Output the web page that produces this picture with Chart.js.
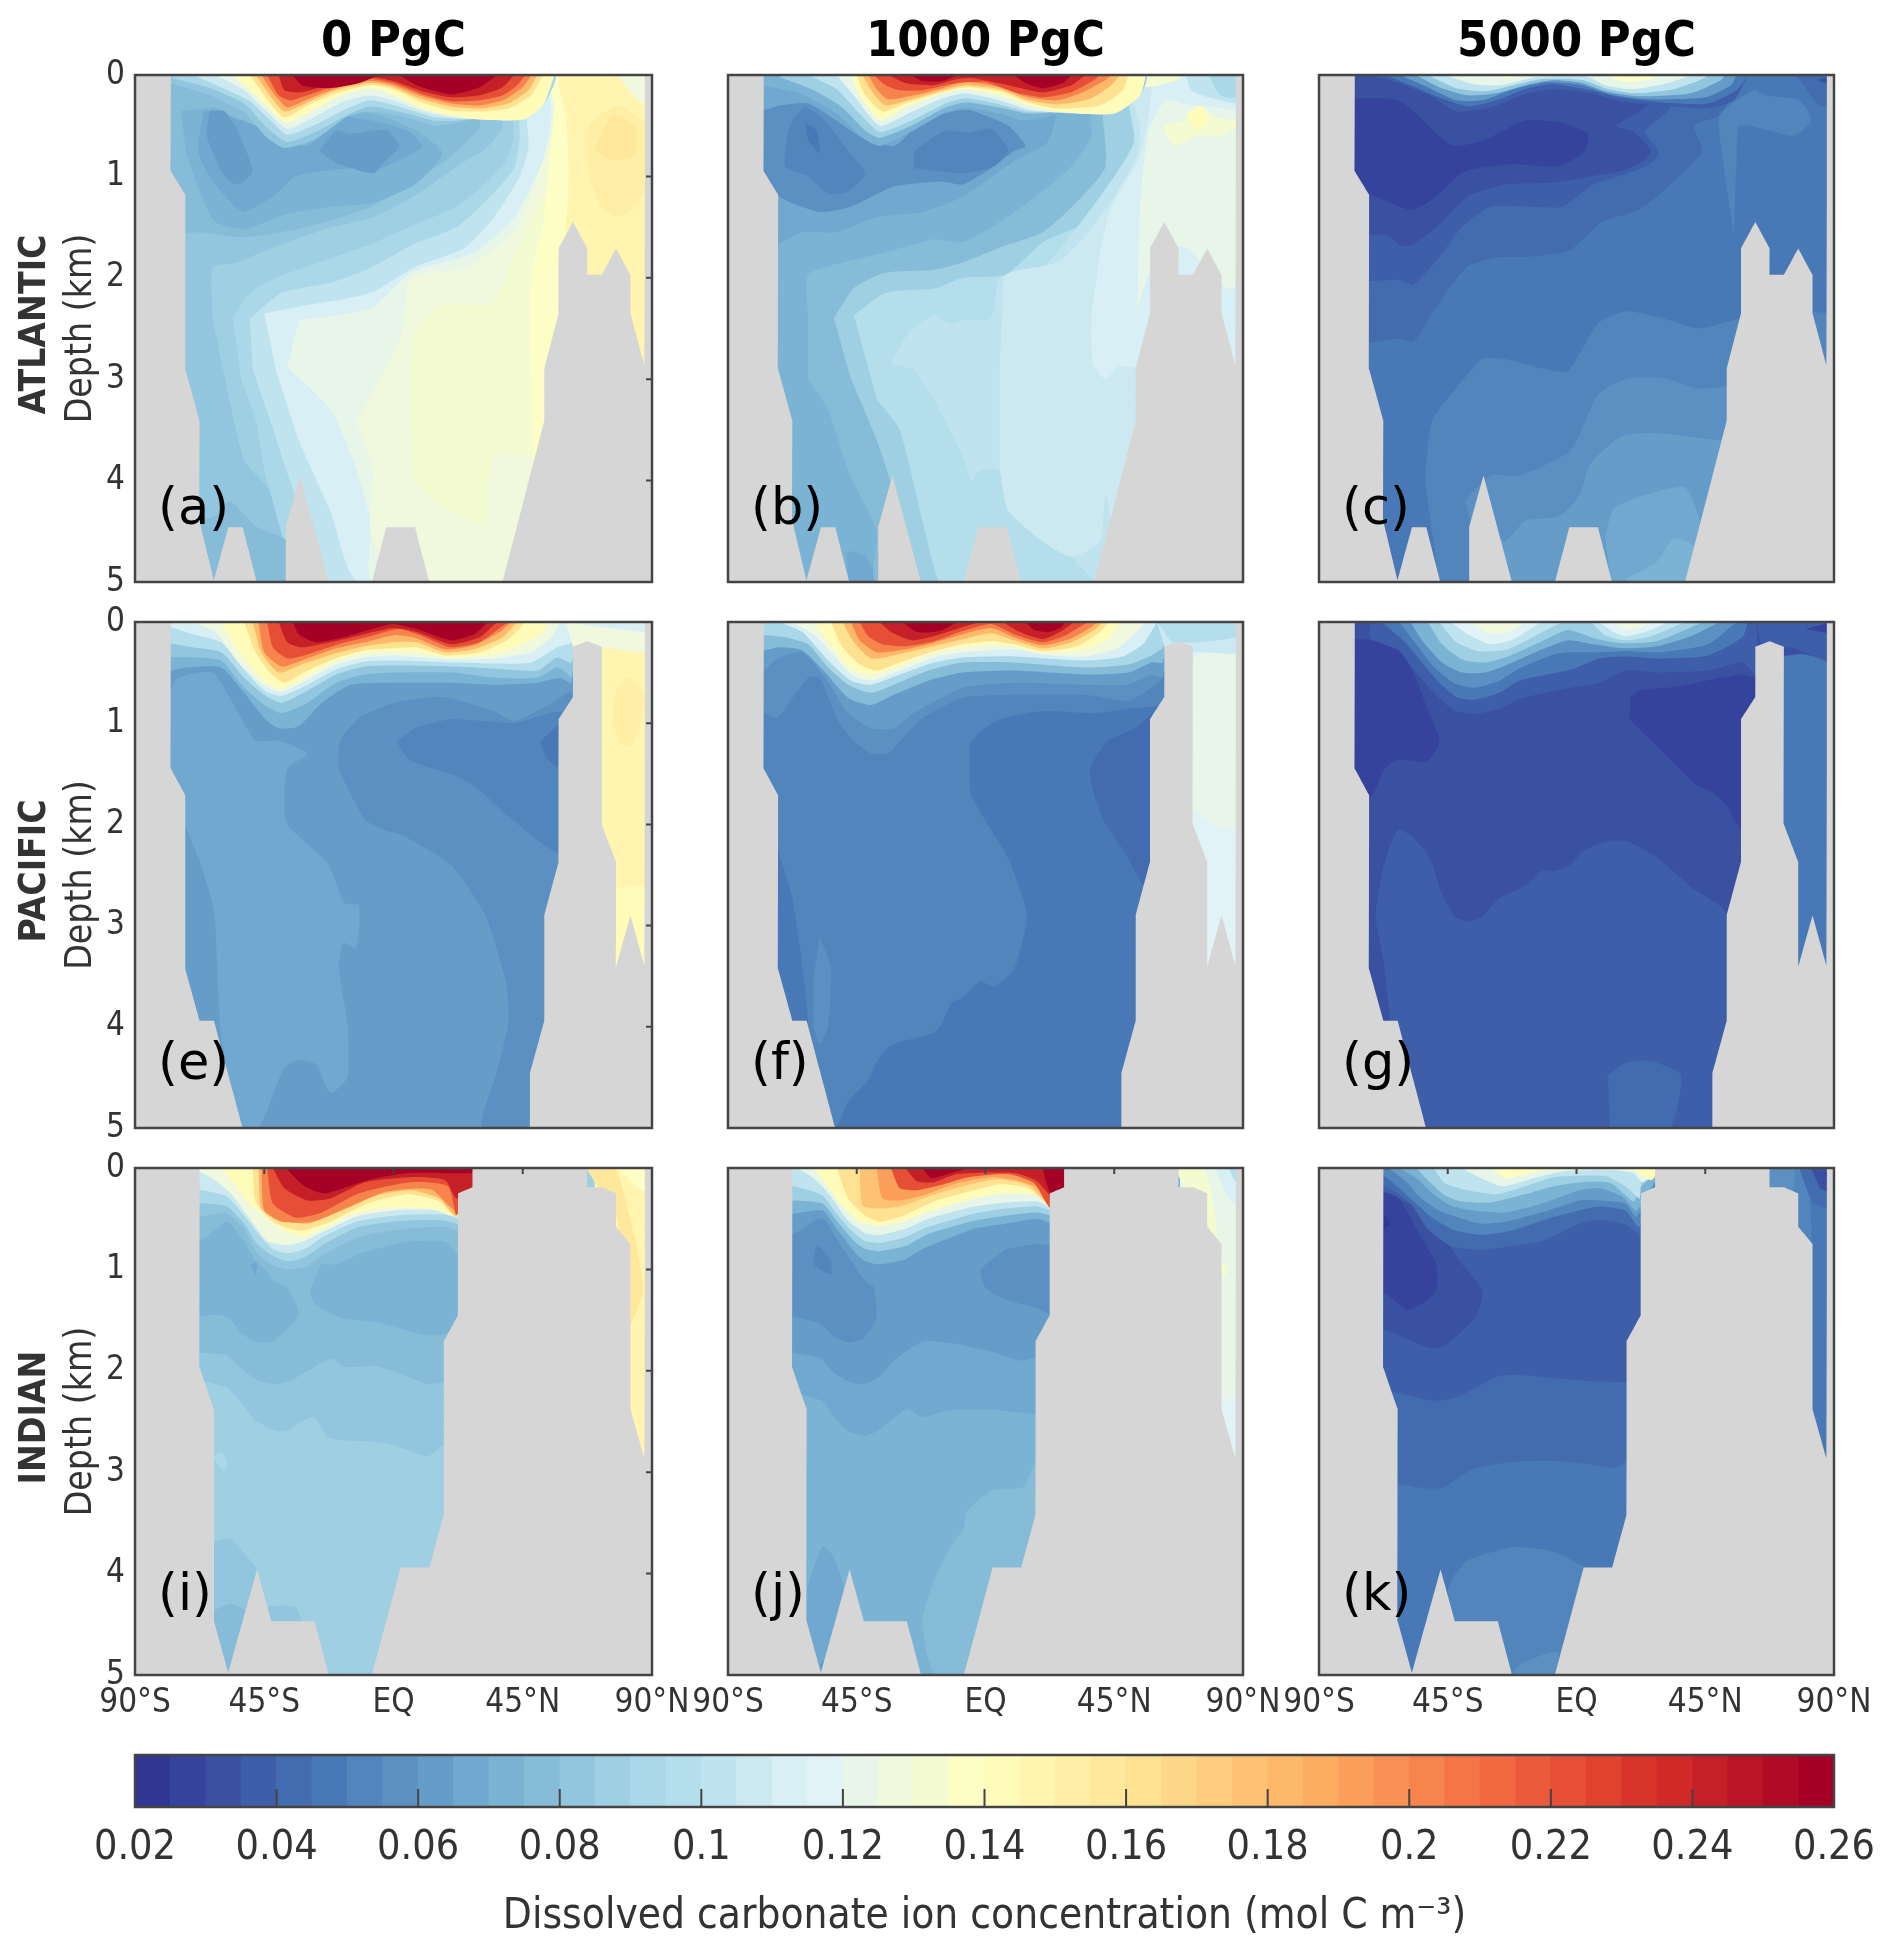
<!DOCTYPE html>
<html>
<head>
<meta charset="utf-8">
<title>Dissolved carbonate ion concentration</title>
<script src="https://cdn.jsdelivr.net/npm/chart.js@4"></script>
<style>
  html, body { margin: 0; padding: 0; background: #fff; }
  body { position: relative; width: 1892px; height: 1956px; overflow: hidden; }
  canvas { position: absolute; }
</style>
</head>
<body>
<script>
// Colour levels of the bar, 0.02 to 0.26 in steps of 0.005
const levelColors = ['#313695','#35439c','#3a51a2','#3e5ea9','#426caf','#4879b6','#5285bc','#5c90c2','#669cc8','#70a8cf','#7bb3d4','#87bcd9','#92c5de','#9ecfe3','#aad8e8','#b5deec','#c0e4ef','#cce9f2','#d7eff5','#e1f3f6','#e8f6e9','#f0f9dd','#f5fbd1','#fcfec6','#fffcba','#fff5b0','#ffefa6','#ffe89c','#fee292','#fed788','#fecd7e','#fdc274','#fdb86a','#fdad60','#fb9f5a','#f99154','#f7834d','#f57547','#f26841','#eb5b3b','#e64f35','#df422f','#d93429','#d02927','#c51f27','#bb1426','#b00a26','#a50026'];
const columnTitles = ['0 PgC', '1000 PgC', '5000 PgC'];
const rowTitles = ['ATLANTIC', 'PACIFIC', 'INDIAN'];
const xTickValues = [-90, -45, 0, 45, 90];
const xTickLabels = ['90°S', '45°S', 'EQ', '45°N', '90°N'];
const barTicks = [0.02, 0.04, 0.06, 0.08, 0.1, 0.12, 0.14, 0.16, 0.18, 0.2, 0.22, 0.24, 0.26];

// Sea floor outlines, lat,depth pairs
const atlanticLand = [-90,0,-77.5,0,-77.5,.95,-72.5,1.18,-72.5,2.9,-67.5,3.41,-67.5,4.4,-62.5,4.98,-57.5,4.46,-52.5,4.46,-47.5,5,-37.5,5,-37.5,4.46,-32.5,3.95,-22.5,5,-7.5,5,-2.5,4.46,7.5,4.46,12.5,5,38,5,52.5,3.41,52.5,2.9,57.5,2.35,57.5,1.71,62.5,1.45,67.5,1.71,67.5,1.97,72.5,1.97,77.5,1.71,82.5,1.97,82.5,2.35,87.5,2.88,87.5,0,90,0,90,5,-90,5];
const pacificLand = [-90,0,-77.5,0,-77.5,1.45,-72.5,1.71,-72.5,3.43,-67.5,3.94,-62.5,3.94,-52.5,5,47.5,5,47.5,4.46,52.5,3.94,52.5,2.9,57.5,2.37,57.5,.96,62.5,.74,62.5,.245,67.5,.19,72.5,.245,72.5,2,77.5,2.37,77.5,3.41,82.5,2.9,87.5,3.41,87.5,0,90,0,90,5,-90,5];
const indianLand = [-90,0,-67.5,0,-67.5,1.97,-62.5,2.38,-62.5,4.47,-57.5,4.98,-47.5,3.96,-42.5,4.47,-27.5,4.47,-22.5,5,-7.5,5,2.5,3.94,12.5,3.94,17.5,3.42,17.5,1.71,22.5,1.45,22.5,.25,27.5,.19,27.5,0,67.5,0,67.5,.19,72.5,.19,77.5,.25,77.5,.58,82.5,.75,82.5,2.38,87.5,2.88,87.5,0,90,0,90,5,-90,5];

// Contour regions, painted in order: concentration, then lat,depth pairs
const atlantic0 = [
  [.075,-90,0,90,0,90,5,-90,5],
  [.08,-80,1.6,-68,1.55,-52,1.6,-30,1.5,-8,1.3,10,1,20,.8,30,.5,30,0,90,0,90,5,-90,5,-90,1.6],
  [.085,-63,2.4,-63,1.9,-55,1.85,-42,1.7,-24,1.52,-7,1.4,8,1.18,23,.88,32,.73,38,.5,38,0,90,0,90,5,-37,5,-37,4.5,-43,4.1,-52,3.8,-58,3.1],
  [.09,-56,2.4,-50,2.15,-41,2,-24,1.83,-8,1.67,7,1.48,22,1.3,32,1.07,39,.85,42,.6,42,0,90,0,90,5,-30,5,-44,4,-48,3.4,-53,3],
  [.1,-50,2.4,-39,2.15,-22,2.05,-8,1.9,7,1.67,22,1.5,33,1.22,42,.92,44,.6,44,0,90,0,90,5,-22,5,-36,4,-43,3.4,-49,2.9],
  [.11,-45,2.35,-32,2.28,-8,2.15,7,1.9,25,1.7,35,1.4,44,1,47,.7,47,0,90,0,90,5,-12,5,-22,4.3,-33,3.6,-41,2.9],
  [.12,-33,2.42,-8,2.3,6,1.95,28,1.75,42,1.4,52,.85,55,.4,55,0,90,0,90,5,-7,5,-8,4.4,-14,3.8,-22,3.3,-37,2.88],
  [.125,-13,3.42,-5,3,3,2.55,6,2,25,1.9,42,1.55,50,1,57,.4,60,0,90,0,90,5,12,5,-3,4.8,-8,4.5,-7,3.9],
  [.13,6,3.4,7,2.6,17,2.26,34,2.26,42,1.8,50,1.3,56,.9,60,0,90,0,90,5,50,3.8,35,3.75,32,4.45,27,4.4,17,4.25,7,4],
  [.135,48,3.1,48,2,52,1.5,54,.9,56,.3,54,0,90,0,90,5,50,5],
  [.145,57,2.5,60,1.5,61,.95,60,.4,58,0,90,0,90,5,57,5],
  [.15,68,1,68,.5,78,.3,88,.5,88,1.1,84,1.3,78,1.4,72,1.3],
  [.155,70,.75,76,.4,84,.5,84,.8,76,.85],
  [.125,78,0,82,.15,86,.27,90,.27,90,0],
  [.075,-70,4.4,-62,4.35,-57,4.2,-48,4.45,-44,4.5,-37,4.6,-37,5,-70,5],
  [.07,-74,.35,-72,.77,-67,1.18,-62,1.45,-52,1.52,-37,1.37,-22,1.3,-7,1.26,8,1.07,17,.77,8,.55,-7,.38,-18,.35,-33,.73,-42,.65,-52,.47,-62,.32],
  [.065,-66,.35,-68,.75,-63,1.05,-55,1.3,-52,1.35,-42,1.2,-34,1,-15,.92,-7,.95,5,.8,10,.7,5,.55,-7,.45,-18,.42,-30,.7,-40,.6,-52,.45],
  [.06,-64,.35,-65,.6,-60,.95,-56,1.07,-53,1.07,-49,.95,-55,.5,-59,.35],
  [.06,-26,.75,-20,.55,-15,.58,-8,.55,-2,.55,2,.7,-3,.85,-7,.97,-20,.87],
  [.08,-78,.08,-64,.2,-52,.37,-44,.62,-38,.72,-27,.63,-16,.41,-8,.36,5,.42,14,.5,22,.47,30,.43,45,.43,52,.3,56,0,-78,0],
  [.09,-77,.03,-64,.13,-52,.28,-44,.52,-37,.66,-27,.56,-15,.38,-8,.31,5,.38,14,.45,22,.45,30,.43,45,.43,52,.3,56,0,-77,0],
  [.105,-70,0,-60,.12,-50,.26,-42,.47,-37,.59,-28,.5,-16,.33,-8,.25,3,.32,15,.42,30,.43,45,.43,52,.3,56,0],
  [.12,-62,0,-52,.15,-44,.36,-37,.53,-30,.45,-18,.27,-8,.2,2,.27,12,.37,25,.43,45,.44,52,.3,56,0],
  [.14,-56,0,-48,.2,-40,.42,-37,.47,-30,.38,-18,.2,-8,.13,0,.2,10,.33,20,.4,30,.44,45,.44,52,.3,56,0],
  [.16,-50,0,-45,.2,-38,.42,-30,.3,-20,.18,-8,.1,0,.14,10,.27,20,.35,30,.36,40,.33,48,.2,52,0],
  [.18,-48,0,-43,.2,-38,.36,-30,.27,-20,.15,-8,.08,0,.12,10,.24,20,.31,30,.33,40,.28,47,.15,50,0],
  [.2,-46,0,-42,.17,-37,.32,-30,.24,-20,.13,-8,.06,0,.1,10,.21,20,.28,30,.3,38,.25,45,.12,48,0],
  [.22,-44,0,-40,.2,-36,.25,-30,.2,-20,.1,-8,.04,0,.08,10,.19,20,.26,30,.25,38,.2,43,.1,46,0],
  [.24,-40,0,-38,.15,-32,.17,-20,.08,-8,.02,0,.06,10,.16,20,.22,30,.2,38,.12,42,0],
  [.255,-35,0,-32,.1,-22,.13,-12,.08,-5,0],
  [.255,2,0,8,.1,20,.19,30,.12,36,0],
];
const atlantic1000 = [
  [.065,-90,0,90,0,90,5,-90,5],
  [.07,-73,1.68,-64,1.55,-52,1.55,-38,1.4,-22,1.35,-8,1.2,10,.85,22,.65,30,0,90,0,90,5,-90,5,-90,1.68],
  [.065,-48,5,-48,4.7,-42,4.75,-37,5],
  [.075,-62,2.4,-62,1.97,-50,1.85,-35,1.75,-18,1.62,-8,1.65,5,1.45,20,1.15,30,.9,37,.6,37,0,90,0,90,5,-38,5,-38,4.5,-48,3.9,-55,3.3,-62,3],
  [.085,-53,2.4,-46,2.1,-35,1.95,-18,1.92,-8,1.85,5,1.7,20,1.55,32,1.25,42,.9,42,0,90,0,90,5,-24,5,-30,4.3,-38,3.6,-47,3],
  [.095,-46,2.37,-35,2.15,-17,2.1,-8,2,7,1.97,20,1.65,32,1.5,42,1.3,52,.7,50,0,90,0,90,5,-8,5,-16,5,-22,4.4,-30,3.5,-38,3.2],
  [.1,-33,2.85,-27,2.55,-18,2.37,-13,2.45,-8,2.42,2,2.4,5,2,20,1.9,40,1.2,52,.65,50,0,90,0,90,5,40,5,22,4.5,16,4.4,5,3.9,-2,3.9,-5,4,-8,3.75,-18,3.2,-25,2.9],
  [.105,5,2.9,6,2.3,7,1.97,25,1.85,36,1.55,45,1.2,53,.8,54,.5,50,0,90,0,90,5,50,5,42,4.15,40,4.6,30,4.75,20,4.6,8,4.3,5,3.9],
  [.11,37,2.37,37.5,2.85,42,3,47,2.87,90,3,90,0,60,0,57,.4,54,.8,44,1.3,40,1.75],
  [.12,53,2.3,54,1.3,57,.55,63,.25,72,.3,90,.4,90,2.05,84,2.1,70,1.7,60,1.7],
  [.13,70,.45,75,.3,80,.42,90,.47,82,.6,74,.6,66,.7,62,.5],
  [.14,70,.4,75,.3,78,.45,74,.55],
  [.13,54,0,56,.12,66,.06,70,0],
  [.1,70,0,72,.15,78,.22,90,.28,90,0],
  [.09,78,0,82,.2,90,.22,90,0],
  [.055,-78,.35,-78,.95,-72,1.2,-58,1.35,-47,1.3,-32,1.1,-15,1.05,-8,1.08,3,.9,10,.75,14,.7,8,.5,-5,.35,-10,.35,-22,.45,-32,.7,-43,.62,-52,.45,-62,.28,-72,.3],
  [.05,-69,.55,-70,.9,-62,1,-55,1.17,-48,1.15,-42,.97,-48,.75,-56,.45,-63,.32,-67,.42],
  [.05,-25,.75,-14,.55,-6,.57,2,.53,6,.65,8,.75,3,.9,-8,.97,-25,.92],
  [.045,-63,.47,-59,.55,-58,.77,-62,.65],
  [.07,-78,.1,-65,.18,-52,.38,-43,.62,-37,.7,-26,.56,-14,.37,-7,.32,5,.38,13,.45,20,.42,30,.36,45,.37,54,.2,56,0,-78,0],
  [.085,-72,.02,-60,.15,-50,.32,-42,.55,-37,.62,-26,.5,-14,.32,-7,.27,5,.32,15,.38,30,.36,45,.37,54,.2,56,0,-72,0],
  [.1,-62,0,-52,.14,-44,.38,-37,.56,-26,.45,-14,.28,-7,.23,5,.29,15,.36,30,.36,45,.37,54,.2,56,0],
  [.12,-52,0,-46,.2,-37,.5,-27,.38,-15,.23,-7,.18,5,.25,15,.34,25,.37,45,.38,54,.2,56,0],
  [.14,-47,0,-44,.2,-37,.44,-28,.32,-15,.18,-7,.14,5,.2,15,.3,25,.36,45,.38,54,.2,56,0],
  [.16,-45,0,-42,.2,-36,.36,-28,.28,-15,.17,-7,.12,5,.16,15,.27,25,.33,40,.3,48,.15,50,0],
  [.18,-43,0,-40,.15,-35,.3,-26,.24,-15,.15,-7,.1,5,.14,15,.25,25,.29,36,.24,44,.1,47,0],
  [.2,-41,0,-38,.14,-34,.24,-25,.2,-15,.13,-7,.07,5,.12,15,.22,25,.25,34,.17,42,.05,44,0],
  [.22,-39,0,-35,.1,-30,.15,-22,.15,-10,.08,0,.07,10,.17,20,.22,30,.17,38,.05,40,0],
  [.24,-34,0,-28,.08,-18,.1,-10,.04,-5,.03,8,.1,20,.17,30,.1,35,0],
  [.255,-26,0,-22,.06,-15,.06,-10,0],
  [.255,10,0,14,.08,20,.13,27,.08,30,0],
];
const atlantic5000 = [
  [.03,-90,0,90,0,90,5,-90,5],
  [.035,-80,1.58,-66,1.58,-61.6,1.68,-57.7,1.68,-49,1.5,-38,1.2,-25,1.08,-8,1.06,5,1,15,.95,22,.87,26,.75,20,.56,14,.5,25,.3,30,0,90,0,90,5,-90,5,-90,1.58],
  [.04,-80,2.05,-62,2.02,-57,2.07,-48,1.8,-40,1.5,-30,1.3,-15,1.3,-5,1.3,6,1.08,20,.95,27,.85,28.7,.75,24,.56,32,.35,38,0,90,0,90,5,-90,5,-90,2.05],
  [.045,-80,2.67,-62.3,2.6,-57,2.63,-50.4,2.35,-38.6,1.9,-28,1.8,-16,1.79,-2.3,1.73,9,1.45,22,1.33,34,1.05,44,.75,41,.5,50,.4,60,0,90,0,90,5,-90,5,-90,2.67],
  [.05,-53,4,-50.5,3.41,-38.6,2.97,-33,2.8,-25,2.8,-11,2.9,-3,2.92,7.5,2.45,17,2.33,29,2.39,43,2.5,58,2.4,90,2.4,90,5,-48,5],
  [.055,-39,4.2,-30,3.95,-20,3.95,-2,3.7,7.5,3.15,18,2.99,31,2.99,42,3.09,54,3.07,90,3,90,5,-36,5,-36,4.5],
  [.06,-29,4.5,-25,4.6,-18,4.4,-6,4.35,1,4.15,5,3.83,16,3.56,28,3.53,50,3.6,90,3.6,90,5,-25,5],
  [.065,10,4.55,13,4.28,22,4.16,38,4.07,44,4.5,44,5,12,5],
  [.07,17,4.97,28,4.8,34,4.57,41,4.65,41,5,17,5],
  [.05,55,1.6,56,.8,57,.5,68,.55,76,.6,82,.45,78,.25,66,.2,62,.15,50,.4,52,1],
  [.04,78,.05,85,.3,90,.3,90,0,76,0],
  [.03,84,.05,90,.1,90,0],
  [.025,-90,.24,-62.3,.25,-44,.69,-33,.65,-18,.45,-5,.47,4,.58,3,.75,-6,.9,-22,.88,-39,.95,-50,1.22,-57.7,1.33,-72,1.18,-90,1],
  [.035,-72,0,-62,.08,-50,.22,-42,.36,-30,.32,-18,.19,-8,.14,5,.18,15,.26,30,.3,46,.33,55,.25,60,0],
  [.045,-67,0,-58,.1,-48,.22,-38,.31,-28,.25,-18,.14,-8,.09,5,.15,15,.22,30,.27,46,.28,56,.15,60,0],
  [.06,-62,0,-52,.12,-42,.25,-33,.25,-22,.14,-10,.07,2,.1,12,.19,25,.24,45,.22,54,.1,56,0],
  [.08,-56,0,-48,.12,-38,.2,-28,.18,-18,.1,-8,.05,2,.08,10,.16,22,.21,40,.18,50,.06,52,0],
  [.1,-52,0,-42,.13,-32,.16,-22,.1,-12,.04,2,.05,10,.13,20,.18,34,.14,44,.04,46,0],
  [.12,-46,0,-36,.09,-26,.1,-14,.02,3,.01,10,.1,20,.14,32,.08,40,0],
  [.135,-28,0,-24,.03,-18,0],
  [.135,10,0,17,.07,24,.05,30,0],
];
const pacific0 = [
  [.06,-90,0,90,0,90,5,-90,5],
  [.065,-78,.7,-75,.55,-63,.5,-56,.8,-48,1.17,-40,1.17,-30,1.3,-37,1.45,-38,1.73,-37,2,-23,2.38,-17,2.78,-12,2.8,-13,3.22,-17.5,3.17,-19,3.42,-16,3.97,-16,4.5,-22,4.65,-27,4.37,-33,4.33,-38,4.4,-42,4.68,-47,5,-53,5,-60,4.1,-61.5,3.3,-62.5,2.85,-67,2.4,-72,2.05,-80,1.5],
  [.055,-19,1.2,-19,1.45,-10,1.95,-4,2.05,2.5,2.1,20,2.4,32,2.9,39,3.55,40,3.95,36,4.45,31,5,60,5,60,.5,-5,.5],
  [.05,1,1.18,6,1.37,22,1.52,30,1.66,42,1.97,58,2.27,60,.9,42,1,20,.96,8,1.04],
  [.045,51,1.18,53.5,1.35,58,1.45,60,1.2,58,1],
  [.06,-20,1.2,-12,.95,0,.8,17,.74,35,.88,42,.98,55,.8,62,.65,62,0,-20,0],
  [.07,-80,.5,-72,.45,-60,.45,-52,.7,-45,.95,-40,1.05,-33,1.03,-25,.8,-15,.62,0,.6,20,.6,35,.62,50,.6,58,.55,62,.6,62,0,-80,0],
  [.08,-80,.35,-70,.35,-60,.38,-52,.65,-45,.82,-39,.9,-30,.8,-20,.6,-10,.52,0,.5,20,.5,35,.55,50,.55,57,.45,60,.5,62,.55,62,0,-80,0],
  [.095,-80,.2,-70,.25,-60,.3,-52,.55,-45,.72,-39,.8,-30,.68,-20,.52,-10,.44,0,.43,20,.44,35,.46,50,.48,57,.35,62,.4,62,0,-80,0],
  [.11,-78,.05,-70,.12,-60,.2,-52,.47,-45,.68,-39,.73,-30,.62,-20,.47,-10,.39,0,.38,20,.4,35,.41,48,.4,57,.25,62,.2,62,0,-78,0],
  [.125,-70,0,-62,.1,-54,.4,-45,.63,-39,.69,-30,.57,-20,.42,-10,.35,0,.33,20,.37,35,.36,48,.3,55,.15,58,0],
  [.14,-60,0,-54,.28,-45,.58,-39,.66,-30,.53,-20,.38,-10,.31,0,.29,10,.31,20,.35,35,.32,45,.22,52,.1,54,0],
  [.16,-52,0,-48,.3,-43,.5,-38,.6,-30,.48,-20,.36,-10,.28,0,.26,8,.25,18,.33,30,.3,40,.17,46,0],
  [.18,-49,0,-46,.3,-40,.5,-32,.42,-20,.31,-10,.24,0,.2,8,.2,18,.3,28,.27,38,.15,43,0],
  [.2,-47,0,-45,.3,-39,.44,-31,.37,-20,.26,-10,.2,0,.13,8,.16,18,.27,28,.23,37,.1,41,0],
  [.22,-44,0,-42,.25,-37,.36,-30,.32,-18,.21,-8,.14,2,.07,10,.14,20,.25,30,.2,37,.06,40,0],
  [.24,-40,0,-37,.2,-32,.25,-22,.2,-10,.12,0,.06,8,.1,20,.22,30,.15,36,0],
  [.255,-35,0,-33,.12,-27,.2,-16,.14,-5,.05,0,.02,8,.07,20,.18,28,.12,33,0],
  [.145,63,.2,90,.2,90,5,63,5],
  [.14,70,2.65,90,2.65,90,5,70,5],
  [.15,76,1,78,.65,82,.55,87,.7,87,.9,83,1.22,79,1.2],
  [.125,60,0,90,0,90,.3,70,.25,63,.3],
  [.11,60,0,90,0,90,.1,72,.05],
];
const pacific1000 = [
  [.045,-90,0,90,0,90,5,-90,5],
  [.05,-5.5,1.2,-5.5,1.45,-5,1.71,3,2.1,8.5,2.37,14.5,2.9,10,3.43,3,3.6,-2,3.55,-7.5,3.7,-12,3.77,-17,4.04,-33,4.18,-37,4.3,-41.6,4.55,-47.6,4.72,-52.5,5,-60,5,-62,3.95,-64,3.4,-67.7,2.7,-72,2.3,-80,1.5,-80,0,62,0,62,.8,52,.85,38,.9,20,.88,5,.96,-2,1.08],
  [.055,-58,3.1,-54,3.43,-55,4,-58,4.17,-60,4,-60,3.5],
  [.04,42,1.18,36.6,1.45,38,1.71,42,2,48.6,2.27,55.3,2.6,60,2.5,60,.9,52,1.05],
  [.055,-78,.88,-73,.95,-62,.55,-58,.55,-52,.95,-47,1.15,-40,1.3,-34,1.3,-30,1.18,-22,.95,-8,.75,10,.72,35,.72,50,.78,58,.65,62,.55,62,0,-80,0],
  [.06,-80,.55,-72,.35,-64,.3,-56,.55,-48,.9,-40,1.05,-32,1.05,-25,.9,-8,.65,10,.6,35,.62,50,.62,58,.52,62,.55,62,0,-80,0],
  [.075,-80,.3,-72,.25,-64,.28,-56,.5,-48,.75,-40,.82,-32,.72,-20,.58,-8,.5,10,.48,35,.52,50,.5,58,.4,62,.4,62,0,-80,0],
  [.09,-80,.12,-70,.15,-62,.22,-55,.45,-48,.62,-40,.7,-32,.62,-20,.48,-8,.4,10,.4,35,.45,50,.42,58,.33,62,.25,62,0,-80,0],
  [.11,-72,0,-64,.1,-55,.38,-47,.58,-40,.62,-30,.52,-18,.4,-8,.35,10,.34,35,.38,48,.34,55,.22,60,0],
  [.125,-68,0,-60,.12,-54,.3,-47,.52,-40,.58,-30,.48,-18,.35,-8,.3,10,.27,20,.32,35,.34,46,.26,52,.12,56,0],
  [.14,-60,0,-55,.18,-48,.44,-40,.52,-30,.43,-18,.3,-8,.25,2,.22,10,.24,20,.3,35,.27,43,.16,47,0],
  [.16,-54,0,-50,.25,-44,.42,-38,.48,-30,.4,-18,.29,-8,.22,2,.19,10,.22,20,.29,32,.24,40,.1,43,0],
  [.18,-50,0,-46,.2,-40,.36,-32,.33,-20,.25,-8,.17,2,.11,10,.18,20,.26,30,.2,38,.08,41,0],
  [.2,-47,0,-44,.18,-38,.3,-30,.28,-20,.22,-8,.12,2,.06,10,.15,20,.23,30,.16,37,.05,39,0],
  [.22,-44,0,-41,.14,-36,.22,-28,.24,-18,.19,-8,.09,2,.02,10,.12,20,.2,28,.13,34,.03,36,0],
  [.24,-37,0,-33,.1,-26,.18,-18,.14,-8,.05,-2,0],
  [.24,6,0,12,.1,20,.17,26,.1,31,0],
  [.255,-29,0,-24,.1,-16,.09,-10,0],
  [.255,14,0,17,.08,22,.1,26,.06,28,0],
  [.115,63,.2,90,.2,90,5,63,5],
  [.12,64,.4,90,.3,90,1.95,83,2.05,72,1.85,66,1.6],
  [.105,60,0,90,0,90,.3,75,.3,63,.3],
  [.095,60,0,90,0,90,.13,75,.2,65,.2],
];
const pacific5000 = [
  [.03,-90,0,90,0,90,5,-90,5],
  [.035,-65,3.94,-67.6,3.32,-70.2,2.9,-67,2.37,-62.3,2.05,-57,2.13,-51,2.35,-47,2.69,-42.5,2.91,-37,2.96,-32.6,2.9,-27.4,2.74,-17.5,2.6,-12.2,2.46,-7.6,2.46,-2.3,2.4,2.3,2.27,7.6,2.19,13,2.16,18,2.17,28.7,2.34,40.6,2.63,52.4,2.88,52.4,5,-52,5],
  [.04,10.9,4.48,16.8,4.36,22.8,4.33,28.7,4.36,36.6,4.48,32.4,5,11.8,5],
  [.025,-90,.15,-71.5,.18,-62.3,.28,-57,.5,-52,.87,-47.8,1.18,-52.4,1.38,-62.3,1.36,-67,1.45,-72,1.72,-90,1.7],
  [.025,18.8,.74,22.8,.67,35.3,.64,57.7,.52,64,.6,64,2.05,57.7,2.05,52.4,1.81,47.8,1.69,41.9,1.61,30,1.28,18.5,.96],
  [.035,-72,0,-72,.16,-62,.28,-57,.47,-51,.67,-43,.87,-36,.91,-27,.86,-20,.76,-2,.65,8,.6,17,.48,29,.5,46,.48,58,.4,63,.52,63,0],
  [.045,-68,0,-60,.2,-54,.4,-48,.6,-42,.74,-36,.77,-27,.7,-20,.58,-2,.47,8,.36,17,.34,29,.36,46,.33,58,.15,60,0],
  [.055,-62,0,-56,.22,-50,.44,-43,.6,-36,.65,-27,.58,-20,.46,-8,.32,-2,.3,8,.3,17,.29,29,.3,46,.22,56,0],
  [.07,-58,0,-54,.18,-47,.4,-40,.5,-32,.5,-24,.42,-12,.27,-3,.18,6,.22,16,.26,28,.24,40,.14,50,0],
  [.085,-52,0,-47,.22,-40,.37,-32,.4,-24,.34,-12,.19,-3,.08,6,.16,16,.21,28,.19,38,.08,44,0],
  [.1,-48,0,-42,.2,-34,.29,-24,.27,-12,.1,-5,0],
  [.1,5,0,10,.13,17,.18,26,.14,38,0],
  [.115,-44,0,-38,.12,-30,.22,-22,.17,-14,.03,-12,0],
  [.115,8,0,13,.1,17,.14,24,.1,32,0],
  [.125,-38,0,-30,.12,-22,.08,-18,0],
  [.125,12,0,17,.07,22,.06,26,0],
  [.045,68,.35,80,.32,90,.45,90,5,70,5],
  [.035,63,0,90,0,90,.4,75,.25,65,.3],
  [.025,80,.07,90,0,90,.12],
];
const indian0 = [
  [.085,-90,0,90,0,90,5,-90,5],
  [.08,-80,2,-62.4,2.13,-57.5,2.17,-48.6,2.47,-43,2.57,-38,2.6,-28,2.45,-22.4,2.66,-3,2.71,7,2.8,12,2.84,18,2.73,30,2.7,30,0,-80,0],
  [.075,-80,1.8,-62,1.83,-58,1.85,-52,2,-47,2.1,-41,2.13,-36,2.1,-22,1.88,-17,1.96,-7,1.95,0,2,12,2.13,18,2.11,30,2.1,30,0,-80,0],
  [.07,-80,1.5,-62.4,1.45,-57.8,1.47,-52.5,1.64,-48,1.71,-42,1.71,-33,1.45,-37,1.18,-42,1.11,-46,.9,-55,.5,-80,.5],
  [.07,-29,1.2,-27.5,1.34,-18,1.48,-4.5,1.53,11.5,1.65,19,1.63,24,1.45,24,.6,-20,.6],
  [.065,-50,.95,-47.5,.93,-48,1.07],
  [.08,-68,3.75,-57.5,3.65,-52,3.8,-47,4,-47,5,-68,5],
  [.075,-68,4.45,-57,4.3,-50,4.4,-50,5,-68,5],
  [.08,-45,4.47,-44,4.33,-34,4.33,-32,4.47],
  [.09,-63,2.85,-60,2.8,-58,2.9,-59,3],
  [.075,-80,.75,-67.5,.72,-58,.53,-52.5,.7,-48,.92,-43.5,1.02,-37,1.06,-31,1.06,-27,.95,-20,.95,-12,.85,4,.73,18,.73,24,.88,30,0,-80,0],
  [.08,-80,.55,-67,.48,-58,.45,-52,.6,-48,.82,-43,.95,-37,1,-31,.98,-24,.85,-12,.68,4,.6,18,.58,24,.62,30,0,-80,0],
  [.09,-80,.35,-67,.35,-58,.38,-52,.55,-48,.73,-43,.85,-37,.92,-31,.88,-24,.75,-12,.58,4,.52,18,.52,24,.55,30,0,-80,0],
  [.105,-80,.2,-67,.22,-58,.28,-52,.47,-47,.65,-42,.8,-37,.84,-31,.8,-24,.67,-12,.52,4,.46,18,.46,24,.5,30,0,-80,0],
  [.125,-70,0,-62,.12,-56,.27,-50,.5,-44,.72,-37,.76,-31,.72,-24,.62,-12,.47,4,.41,18,.42,24,.47,30,0],
  [.14,-60,0,-50,.35,-39,.6,-31,.67,-16,.47,-2,.39,13,.4,22,.47,30,0],
  [.16,-49,0,-48,.33,-42,.53,-33,.62,-22,.53,-9,.35,5,.26,16,.33,22,.48,30,0],
  [.18,-47,0,-46,.4,-40,.5,-30,.55,-18,.42,-6,.27,6,.22,16,.3,22,.47,30,0],
  [.2,-46,0,-45,.42,-39,.53,-28,.53,-16,.39,-2,.23,13,.21,22,.42,30,0],
  [.22,-44,0,-42,.35,-34,.49,-25,.44,-12,.25,6,.14,19,.18,22,.46,30,0],
  [.24,-42,0,-38,.2,-30,.32,-22,.3,-10,.14,6,.09,18,.12,22,.3,30,.15,30,0],
  [.255,-37.5,0,-31,.18,-24,.25,-9,.12,5,.05,27,.05,30,0],
  [.145,70,0,90,0,90,5,70,5],
  [.155,67,0,77,0,84,.7,87,1.2,82,1.55,78,.5],
  [.135,78,0,90,0,90,.25,85,.2],
];
const indian1000 = [
  [.07,-90,0,90,0,90,5,-90,5],
  [.065,-80,2.1,-62.3,2.25,-57,2.3,-52.3,2.48,-47.6,2.6,-42.3,2.64,-37.6,2.59,-27.6,2.38,-22.2,2.46,-12.9,2.39,2,2.38,7,2.4,30,2.39,30,0,-80,0],
  [.06,-80,1.75,-62,1.85,-57.5,1.88,-53,2.02,-47.6,2.11,-42.3,2.13,-37,2.06,-32,1.9,-22,1.71,-11,1.73,2,1.81,12.5,1.9,17.6,1.86,30,1.7,30,0,-80,0],
  [.055,-80,1.45,-67,1.47,-62,1.5,-57.5,1.54,-53,1.66,-47.6,1.72,-42.3,1.67,-38,1.47,-39,1.18,-42,1.12,-46,.93,-52,.7,-57,.5,-80,.6],
  [.055,-2,1,0,1.18,7,1.3,18,1.38,24,1.45,25,.8,18,.75,7,.8],
  [.05,-59,.75,-60,.95,-54,1.05,-54,.9],
  [.075,-7,3.4,-3.5,3.3,3,3.17,13,3.15,18,2.9,30,2.9,30,5,-17,5,-22,4.47,-17,4,-12,3.73,-7.5,3.55],
  [.065,-62.3,4.14,-57,3.73,-53,3.84,-49.6,4.15,-55,5,-63,5],
  [.06,-58,4.9,-56,4.85,-55,5,-57,5],
  [.06,-80,.75,-67,.65,-57,.49,-52,.7,-46.5,.93,-42.3,1.1,-37.6,1.05,-27.6,1.05,-22,.95,-4,.74,7,.67,18,.62,25,.67,30,0,-80,0],
  [.07,-80,.5,-67,.45,-57,.42,-52,.6,-46,.82,-42,.92,-37,.95,-28,.9,-22,.8,-4,.6,7,.55,18,.5,25,.55,30,0,-80,0],
  [.085,-80,.32,-67,.32,-57,.35,-52,.52,-46,.72,-42,.8,-37,.82,-28,.77,-20,.65,-4,.52,7,.47,18,.44,25,.47,30,0,-80,0],
  [.1,-80,.15,-67,.18,-57,.27,-52,.45,-46,.64,-42,.72,-37,.74,-28,.68,-20,.58,-4,.45,7,.4,18,.38,25,.42,30,0,-80,0],
  [.12,-66,0,-60,.1,-54,.28,-48,.52,-42,.64,-37,.66,-28,.6,-20,.5,-4,.38,7,.34,18,.33,25,.4,30,0],
  [.14,-60,0,-56,.15,-50,.38,-44,.53,-37,.57,-28,.52,-20,.43,-4,.3,7,.25,18,.27,25,.42,30,0],
  [.16,-52,0,-48,.3,-43,.45,-37,.53,-28,.46,-18,.33,-4,.22,5,.16,15,.2,25,.42,30,0],
  [.175,-44,0,-43,.37,-37,.4,-30,.38,-20,.28,-8,.18,4,.11,15,.17,25,.42,30,0],
  [.19,-38,0,-36,.3,-30,.32,-22,.27,-10,.15,2,.09,12,.13,20,.22,25,.42,30,0],
  [.22,-33,0,-30,.2,-24,.22,-16,.17,-6,.09,8,.06,17,.15,23,.4,30,.2,30,0],
  [.24,-28,0,-24,.13,-18,.14,-10,.06,10,.05,18,.13,24,.3,30,.18,30,0],
  [.255,-22,0,-19,.1,-12,.05,-6,0],
  [.255,20,0,21,.12,23,.25,30,.15,30,0],
  [.115,68,1,90,1,90,5,68,5],
  [.12,68,0,90,0,90,2.2,82,2.3,68,2.3],
  [.13,66,0,76,0,80,.4,82,.9,85,1,82,1.1,75,.5],
  [.11,80,0,90,0,90,.38,85,.3],
  [.095,85,0,90,0,90,.15,87,.12],
];
const indian5000 = [
  [.035,-90,0,90,0,90,5,-90,5],
  [.04,-80,2.2,-62,2.22,-52,2.29,-46.5,2.29,-41,2.25,-28,2.06,-21,2.04,3.6,2.1,17.5,2.11,30,2.1,30,5,-80,5],
  [.045,-80,3.12,-62,3.12,-53,3.16,-46.5,3.15,-37,2.98,-28,2.92,-17.5,2.89,-7,2.89,3.6,2.92,13,2.96,18,2.9,30,2.9,30,5,-80,5],
  [.05,-45,4.16,-42.5,4.01,-38,3.87,-31,3.8,-23,3.74,-15,3.75,-7,3.79,3,3.94,10,4,10,5,-45,5],
  [.055,-22.5,5,-20,4.9,-7,4.77,-5,5],
  [.03,-80,1.6,-67,1.6,-52,1.77,-48,1.77,-43.6,1.7,-35,1.46,-33,1.2,-40,.95,-45,.74,-52,.46,-70,.2,-80,.2],
  [.025,-80,.2,-66,.25,-62,.3,-54,.7,-49,.95,-49,1.2,-52,1.3,-59,1.4,-67,1.24,-80,1.24],
  [.02,-67.3,.45,-65,.55,-67.3,.6],
  [.04,-80,.15,-67,.18,-58,.35,-52,.6,-44,.77,-33,.81,-23,.77,-12,.72,1,.55,8,.51,17.5,.56,22,.67,24,.8,30,0,-80,0],
  [.05,-70,.02,-64,.15,-58,.3,-50,.5,-42,.62,-33,.66,-23,.62,-10,.5,1,.42,8,.38,17,.42,22,.58,30,0],
  [.06,-66,0,-60,.12,-55,.28,-48,.42,-40,.5,-33,.55,-23,.52,-10,.42,1,.32,8,.32,17,.35,21,.48,30,0],
  [.07,-62,0,-56,.1,-50,.26,-44,.37,-36,.42,-25,.44,-12,.35,1,.22,8,.2,16,.28,21,.42,30,0],
  [.085,-56,0,-52,.12,-46,.27,-40,.33,-30,.34,-18,.26,-8,.18,2,.14,12,.15,20,.33,22,.2,30,0],
  [.1,-50,0,-46,.15,-38,.22,-28,.26,-18,.18,-8,.09,10,.08,18,.2,22,.3,23,.1,30,0],
  [.12,-40,0,-35,.08,-26,.18,-15,.1,-4,.03,12,.02,20,.05,23,.14,30,0],
  [.135,-30,0,-25,.1,-15,.04,-8,0],
  [.14,-27,0,-22,.05,-10,.02,20,.02,26,.12,30,0],
  [.045,70,0,90,0,90,5,70,5],
  [.05,66,0,80,0,82,1,78,1,76,.4,66,.4],
  [.055,66,0,76,0,75,.25,66,.25],
  [.04,78,0,90,0,90,.4,83,.35,79,.1],
  [.03,82,0,90,0,90,.25,85,.2],
  [.025,86,.05,90,.02,90,.12],
];

const panelBands = [
  [atlantic0, atlantic1000, atlantic5000],
  [pacific0, pacific1000, pacific5000],
  [indian0, indian1000, indian5000],
];
const landByRow = [atlanticLand, pacificLand, indianLand];
const panelLetters = [['(a)', '(b)', '(c)'], ['(e)', '(f)', '(g)'], ['(i)', '(j)', '(k)']];

// Layout of the figure
const FONT = '"DejaVu Sans Condensed", "DejaVu Sans", sans-serif';
const TEXT_COLOR = '#333333';
const LAND_COLOR = '#d6d6d6';
const FRAME_COLOR = '#444444';
const COL_LEFT = [135, 728, 1319];
const COL_RIGHT = [652, 1243, 1834];
const ROW_TOP = [75, 622, 1168];
const ROW_BOTTOM = [582, 1128, 1675];
const LETTER_DEPTH = [4.3, 4.38, 4.23];
const MARGIN = 50;
const VPAD = 32;
const BAR_MARGIN = 60;

function colorFor(value) {
    const index = Math.floor((value - 0.02) / 0.005 + 1e-6);
    return levelColors[Math.min(levelColors.length - 1, Math.max(0, index))];
}

function toPoints(flat) {
    const points = [];
    for (let i = 0; i < flat.length; i += 2) {
        points.push({ x: flat[i], y: flat[i + 1] });
    }
    return points;
}

function polygon(flat, color, order, tension) {
    return {
        data: toPoints(flat),
        showLine: true,
        fill: 'shape',
        backgroundColor: color,
        borderWidth: 0,
        pointRadius: 0,
        tension: tension,
        order: order
    };
}

function addCanvas(left, top, width, height) {
    const canvas = document.createElement('canvas');
    canvas.width = width;
    canvas.height = height;
    canvas.style.left = left + 'px';
    canvas.style.top = top + 'px';
    canvas.style.width = width + 'px';
    canvas.style.height = height + 'px';
    document.body.appendChild(canvas);
    return canvas;
}

// Frame, inside ticks, panel letter and row label
function panelDecor(row, col) {
    return {
        id: 'panelDecor',
        afterDraw(chart) {
            const { ctx, chartArea: area, scales } = chart;
            ctx.save();
            ctx.strokeStyle = FRAME_COLOR;
            ctx.lineWidth = 2.5;
            ctx.strokeRect(area.left, area.top, area.right - area.left, area.bottom - area.top);

            ctx.lineWidth = 2;
            ctx.beginPath();
            if (col === 0) {
                [1, 2, 3, 4].forEach(v => {
                    const y = scales.y.getPixelForValue(v);
                    ctx.moveTo(area.right - 6, y);
                    ctx.lineTo(area.right, y);
                });
            }
            if (row === 2) {
                [-45, 0, 45].forEach(v => {
                    const x = scales.x.getPixelForValue(v);
                    ctx.moveTo(x, area.top);
                    ctx.lineTo(x, area.top + 6);
                });
            }
            ctx.stroke();

            ctx.fillStyle = '#000000';
            ctx.font = '51px "DejaVu Sans", sans-serif';
            ctx.textAlign = 'left';
            ctx.textBaseline = 'middle';
            ctx.fillText(panelLetters[row][col], area.left + 23, scales.y.getPixelForValue(LETTER_DEPTH[row]));

            if (col === 0) {
                ctx.translate(35, (area.top + area.bottom) / 2 - 4);
                ctx.rotate(-Math.PI / 2);
                ctx.fillStyle = TEXT_COLOR;
                ctx.font = 'bold 37px ' + FONT;
                ctx.textAlign = 'center';
                ctx.fillText(rowTitles[row], 0, 0);
            }
            ctx.restore();
        }
    };
}

function drawPanel(row, col) {
    const first = col === 0;
    const hasXAxis = row === 2;
    const top = row === 0 ? 0 : ROW_TOP[row] - VPAD;
    const left = first ? 0 : COL_LEFT[col] - MARGIN;
    const bottomSpace = hasXAxis ? 60 : VPAD;
    const width = COL_RIGHT[col] + MARGIN - left;
    const height = ROW_BOTTOM[row] + bottomSpace - top;
    const canvas = addCanvas(left, top, width, height);

    const bands = panelBands[row][col];
    const count = bands.length + 1;
    const datasets = bands.map((band, i) => polygon(band.slice(1), colorFor(band[0]), count - i, 0.2));
    datasets.push(polygon(landByRow[row], LAND_COLOR, 0, 0.0001));

    new Chart(canvas, {
        type: 'scatter',
        data: { datasets: datasets },
        plugins: [panelDecor(row, col)],
        options: {
            responsive: false,
            animation: false,
            events: [],
            layout: {
                padding: {
                    left: first ? 0 : MARGIN,
                    right: MARGIN,
                    top: row === 0 ? 0 : VPAD,
                    bottom: hasXAxis ? 0 : VPAD
                }
            },
            plugins: {
                legend: { display: false },
                tooltip: { enabled: false },
                title: {
                    display: row === 0,
                    fullSize: false,
                    text: columnTitles[col],
                    color: '#000000',
                    font: { family: FONT, size: 50, weight: 'bold', lineHeight: 1.2 },
                    padding: { top: 13, bottom: 2 }
                }
            },
            scales: {
                x: {
                    type: 'linear',
                    display: hasXAxis,
                    min: -90,
                    max: 90,
                    afterFit: scale => { if (hasXAxis) scale.height = 60; },
                    afterBuildTicks: scale => { scale.ticks = xTickValues.map(value => ({ value })); },
                    grid: { display: false, drawTicks: false },
                    border: { display: false },
                    ticks: {
                        color: TEXT_COLOR,
                        font: { family: FONT, size: 33 },
                        padding: 9,
                        maxRotation: 0,
                        autoSkip: false,
                        callback: value => xTickLabels[xTickValues.indexOf(value)]
                    }
                },
                y: {
                    type: 'linear',
                    display: first,
                    reverse: true,
                    min: 0,
                    max: 5,
                    afterFit: scale => { if (first) scale.width = COL_LEFT[0]; },
                    grid: { display: false, drawTicks: false },
                    border: { display: false },
                    title: {
                        display: true,
                        text: 'Depth (km)',
                        color: TEXT_COLOR,
                        font: { family: FONT, size: 37, lineHeight: 1.2 },
                        padding: { top: 59, bottom: 0 }
                    },
                    ticks: {
                        color: TEXT_COLOR,
                        font: { family: FONT, size: 33 },
                        padding: 10,
                        stepSize: 1
                    }
                }
            }
        }
    });
}

// Colour bar along the bottom
function drawColorBar() {
    const barTop = 1755;
    const left = COL_LEFT[0] - BAR_MARGIN;
    const canvas = addCanvas(left, barTop - 10, COL_RIGHT[2] + BAR_MARGIN - left, 1956 - barTop + 10);

    const frame = {
        id: 'barFrame',
        afterDraw(chart) {
            const { ctx, chartArea: area, scales } = chart;
            ctx.save();
            ctx.strokeStyle = FRAME_COLOR;
            ctx.lineWidth = 2.5;
            ctx.strokeRect(area.left, area.top, area.right - area.left, area.bottom - area.top);
            ctx.lineWidth = 2;
            ctx.beginPath();
            barTicks.slice(1, -1).forEach(v => {
                const x = scales.x.getPixelForValue(v);
                ctx.moveTo(x, area.bottom);
                ctx.lineTo(x, area.bottom - 18);
            });
            ctx.stroke();
            ctx.restore();
        }
    };

    new Chart(canvas, {
        type: 'bar',
        data: {
            datasets: [{
                data: levelColors.map((c, i) => ({ x: 0.0225 + i * 0.005, y: 1 })),
                backgroundColor: levelColors,
                barPercentage: 1,
                categoryPercentage: 1,
                borderWidth: 0
            }]
        },
        plugins: [frame],
        options: {
            responsive: false,
            animation: false,
            events: [],
            layout: { padding: { left: BAR_MARGIN, right: BAR_MARGIN, top: 10, bottom: 0 } },
            plugins: { legend: { display: false }, tooltip: { enabled: false } },
            scales: {
                y: { display: false, min: 0, max: 1 },
                x: {
                    type: 'linear',
                    min: 0.02,
                    max: 0.26,
                    offset: false,
                    afterFit: scale => { scale.height = 149; },
                    afterBuildTicks: scale => { scale.ticks = barTicks.map(value => ({ value })); },
                    grid: { display: false, drawTicks: false },
                    border: { display: false },
                    ticks: {
                        color: TEXT_COLOR,
                        font: { family: FONT, size: 41 },
                        padding: 17,
                        maxRotation: 0,
                        autoSkip: false,
                        callback: value => String(parseFloat(value.toFixed(2)))
                    },
                    title: {
                        display: true,
                        text: 'Dissolved carbonate ion concentration (mol C m⁻³)',
                        color: TEXT_COLOR,
                        font: { family: FONT, size: 42, lineHeight: 1.2 },
                        padding: { top: 0, bottom: 14 }
                    }
                }
            }
        }
    });
}

for (let row = 0; row < 3; row++) {
    for (let col = 0; col < 3; col++) {
        drawPanel(row, col);
    }
}
drawColorBar();
</script>
</body>
</html>
